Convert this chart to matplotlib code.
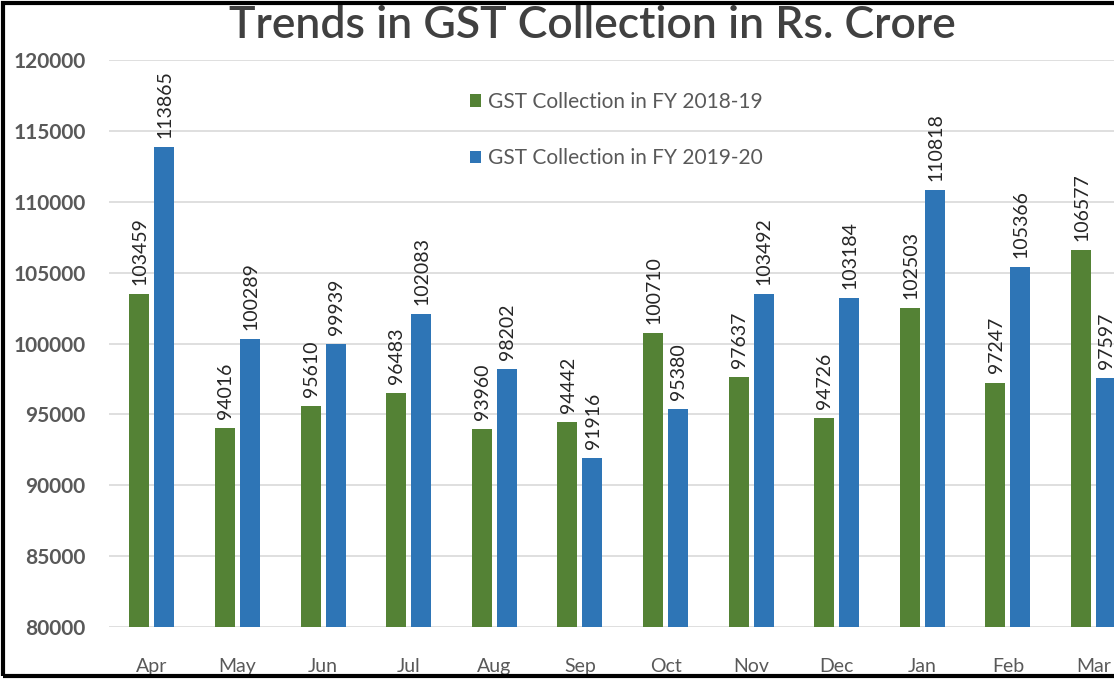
import numpy as np
import matplotlib.pyplot as plt
from matplotlib.patches import Rectangle

plt.rcParams["font.family"] = ["Lato", "DejaVu Sans"]

# 数据
months = ["Apr", "May", "Jun", "Jul", "Aug", "Sep", "Oct", "Nov", "Dec", "Jan", "Feb", "Mar"]
gst_1819 = [103459, 94016, 95610, 96483, 93960, 94442, 100710, 97637, 94726, 102503, 97247, 106577]
gst_1920 = [113865, 100289, 99939, 102083, 98202, 91916, 95380, 103492, 103184, 110818, 105366, 97597]
yticks = [80000, 85000, 90000, 95000, 100000, 105000, 110000, 115000, 120000]

GREEN = "#548235"
BLUE = "#2E75B6"
GRAY = "#595959"

fig = plt.figure(figsize=(11.14, 6.79), dpi=100)
ax = fig.add_axes([0.098, 0.0766, 0.922, 0.835])

x = np.arange(len(months))
w = 0.234
off = 0.146
ax.bar(x - off, gst_1819, w, color=GREEN, label="GST Collection in FY 2018-19", zorder=3)
ax.bar(x + off, gst_1920, w, color=BLUE, label="GST Collection in FY 2019-20", zorder=3)

# 数值标签
for xi, v in zip(x - off, gst_1819):
    ax.annotate(str(v), (xi, v), xytext=(0.5, 6.5), textcoords="offset points",
                rotation=90, ha="center", va="bottom", fontsize=14, color="#262626")
for xi, v in zip(x + off, gst_1920):
    ax.annotate(str(v), (xi, v), xytext=(0.5, 6.5), textcoords="offset points",
                rotation=90, ha="center", va="bottom", fontsize=14, color="#262626")

ax.set_xlim(-0.5, 11.5)
ax.set_ylim(80000, 120000)
ax.set_yticks(yticks)
ax.set_yticklabels([str(t) for t in yticks], fontsize=15, color=GRAY, fontweight="bold")
ax.set_xticks(x)
ax.set_xticklabels(months, fontsize=14, color=GRAY)
ax.tick_params(axis="both", length=0)
ax.tick_params(axis="x", pad=22)
ax.tick_params(axis="y", pad=17)
ax.grid(axis="y", color="#d9d9d9", lw=1.2, zorder=0)
for s in ax.spines.values():
    s.set_visible(False)

ax.legend(loc="upper left", bbox_to_anchor=(0.333, 0.977), frameon=False, fontsize=15,
          handlelength=0.55, handleheight=0.55, handletextpad=0.3, labelspacing=1.75,
          labelcolor=GRAY)

fig.text(0.532, 0.962, "Trends in GST Collection in Rs. Crore", ha="center", va="center",
         fontsize=32, color="#404040", fontweight="semibold")

# 外框
fig.add_artist(Rectangle((0.003, 0.004), 1.2, 0.991, transform=fig.transFigure,
                         fill=False, edgecolor="black", lw=3))

fig.savefig("out.png", dpi=100)
